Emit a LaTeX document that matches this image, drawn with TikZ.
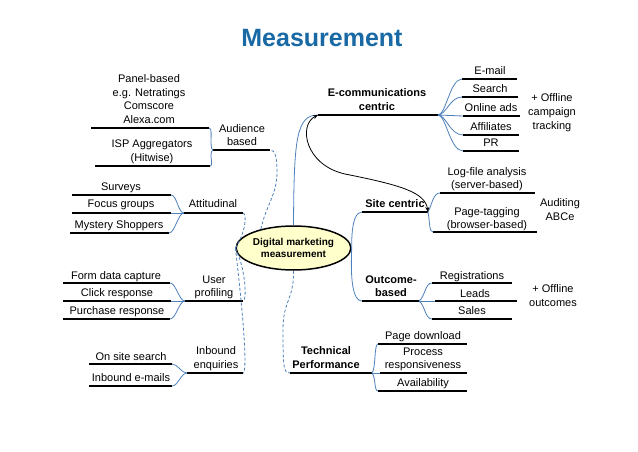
\documentclass[tikz,border=0pt]{standalone}
\usepackage{fontspec}
\setmainfont{Liberation Sans}
\usetikzlibrary{arrows.meta,shapes.geometric}
\definecolor{bluec}{RGB}{79,129,189}
\definecolor{titleblue}{RGB}{25,105,165}
\definecolor{ellfill}{RGB}{255,255,204}
\begin{document}
\begin{tikzpicture}[x=1pt,y=-1pt,
 txt/.style={anchor=base, inner sep=0pt, align=center, font=\fontsize{11}{13.7}\selectfont},
 btxt/.style={anchor=base, inner sep=0pt, align=center, font=\fontsize{11}{13.7}\selectfont\bfseries},
 uline/.style={line width=1.5pt, line cap=butt},
 conn/.style={draw=bluec, line width=0.8pt},
 dconn/.style={draw=bluec, line width=0.8pt, dash pattern=on 3pt off 2pt},
 dblarrow/.style={line width=0.8pt, {Stealth[length=5pt,width=4pt]}-{Stealth[length=5pt,width=4pt]}}
]
\useasboundingbox (0,0) rectangle (638,452);
\fill[white] (0,0) rectangle (638,452);

% title
\node[anchor=base, inner sep=0pt, font=\fontsize{25}{29}\selectfont\bfseries, text=titleblue] (title) at (322,47) {Measurement};

% centre
\node[draw, ellipse, fill=ellfill, line width=1.5pt, minimum width=93pt, minimum height=44pt, inner sep=0pt, align=center, font=\fontsize{10}{11.5}\selectfont\bfseries] (ctr) at (293.5,248) {Digital marketing\\measurement};

% ---------- coordinates ----------
% Audience based
\coordinate (a1L) at (91,128);  \coordinate (a1R) at (209,128);
\coordinate (a2L) at (95,166);  \coordinate (a2R) at (210,166);
\coordinate (audJ) at (213,150); \coordinate (audE) at (270,150);
% Attitudinal
\coordinate (t1L) at (72,195);  \coordinate (t1R) at (171,195);
\coordinate (t2L) at (72,213);  \coordinate (t2R) at (171,213);
\coordinate (t3L) at (70,233);  \coordinate (t3R) at (169,233);
\coordinate (attJ) at (184,213); \coordinate (attE) at (243,213);
% User profiling
\coordinate (u1L) at (63,283);  \coordinate (u1R) at (170,283);
\coordinate (u2L) at (63,301);  \coordinate (u2R) at (171,301);
\coordinate (u3L) at (63,319);  \coordinate (u3R) at (170,319);
\coordinate (upJ) at (185,301); \coordinate (upE) at (243,301);
% Inbound
\coordinate (i1L) at (89,364);  \coordinate (i1R) at (172,364);
\coordinate (i2L) at (89,386);  \coordinate (i2R) at (172,386);
\coordinate (inbJ) at (187,373); \coordinate (inbE) at (243,373);
% E-communications
\coordinate (ecS) at (318,115); \coordinate (ecJ) at (438,115);
\coordinate (e1L) at (462,79);  \coordinate (e1R) at (517,79);
\coordinate (e2L) at (462,97);  \coordinate (e2R) at (518,97);
\coordinate (e3L) at (463,116); \coordinate (e3R) at (520,116);
\coordinate (e4L) at (463,135); \coordinate (e4R) at (519,135);
\coordinate (e5L) at (463,151); \coordinate (e5R) at (519,151);
% Site centric
\coordinate (scS) at (362,212); \coordinate (scJ) at (428,212);
\coordinate (s1L) at (440,193); \coordinate (s1R) at (535,193);
\coordinate (s2L) at (433,232); \coordinate (s2R) at (537,232);
% Outcome based
\coordinate (obS) at (362,301); \coordinate (obJ) at (419,301);
\coordinate (o1L) at (432,283); \coordinate (o1R) at (512,283);
\coordinate (o2L) at (435,301); \coordinate (o2R) at (517,301);
\coordinate (o3L) at (432,319); \coordinate (o3R) at (512,319);
% Technical performance
\coordinate (tpS) at (290,373); \coordinate (tpJ) at (372,373);
\coordinate (p1L) at (378,344); \coordinate (p1R) at (467,344);
\coordinate (p2L) at (380,373); \coordinate (p2R) at (467,373);
\coordinate (p3L) at (378,391); \coordinate (p3R) at (467,391);

% ---------- underlines ----------
\foreach \a/\b in {a1L/a1R,a2L/a2R,audJ/audE,t1L/t1R,t2L/t2R,t3L/t3R,attJ/attE,
  u1L/u1R,u2L/u2R,u3L/u3R,upJ/upE,i1L/i1R,i2L/i2R,inbJ/inbE,
  ecS/ecJ,e1L/e1R,e2L/e2R,e3L/e3R,e4L/e4R,e5L/e5R,scS/scJ,s1L/s1R,s2L/s2R,
  obS/obJ,o1L/o1R,o2L/o2R,o3L/o3R,tpS/tpJ,p1L/p1R,p2L/p2R,p3L/p3R}
  \draw[uline] (\a) -- (\b);

% ---------- blue fans ----------
% audience brace
\draw[conn] (a1R) .. controls (212,128) and (211,135) .. (211,142) .. controls (211,147) and (212,150) .. (audJ);
\draw[conn] (a2R) .. controls (213,166) and (211,159) .. (211,156) .. controls (211,152) and (212,150) .. (audJ);
% attitudinal
\draw[conn] (t1R) .. controls (177,195) and (178,213) .. (attJ);
\draw[conn] (t2R) -- (attJ);
\draw[conn] (t3R) .. controls (175,233) and (178,213) .. (attJ);
% user profiling
\draw[conn] (u1R) .. controls (176,283) and (179,301) .. (upJ);
\draw[conn] (u2R) -- (upJ);
\draw[conn] (u3R) .. controls (176,319) and (179,301) .. (upJ);
% inbound
\draw[conn] (i1R) .. controls (178,364) and (181,373) .. (inbJ);
\draw[conn] (i2R) .. controls (178,386) and (181,373) .. (inbJ);
% e-comm
\draw[conn] (ecJ) .. controls (446,115) and (450,79) .. (e1L);
\draw[conn] (ecJ) .. controls (446,115) and (450,97) .. (e2L);
\draw[conn] (ecJ) -- (e3L);
\draw[conn] (ecJ) .. controls (446,115) and (450,135) .. (e4L);
\draw[conn] (ecJ) .. controls (446,115) and (450,151) .. (e5L);
% site centric
\draw[conn] (scJ) .. controls (432,205) and (433,193) .. (s1L);
\draw[conn] (scJ) .. controls (430,222) and (429,232) .. (s2L);
% outcome
\draw[conn] (obJ) .. controls (425,297) and (425,283) .. (o1L);
\draw[conn] (obJ) -- (o2L);
\draw[conn] (obJ) .. controls (425,305) and (425,319) .. (o3L);
% technical
\draw[conn] (tpJ) .. controls (376,368) and (374,344) .. (p1L);
\draw[conn] (tpJ) -- (p2L);
\draw[conn] (tpJ) .. controls (376,378) and (374,391) .. (p3L);

% ---------- centre connectors ----------
\draw[conn] (ctr.north) .. controls (294,140) and (296,115) .. (ecS);
\draw[conn] (ctr.east) .. controls (352,248) and (350,212) .. (scS);
\draw[conn] (ctr.east) .. controls (352,252) and (348,301) .. (obS);
\draw[dconn] (ctr.150) .. controls (266,205) and (277,195) .. (277,172) .. controls (277,156) and (275,150) .. (audE);
\draw[dconn] (ctr.west) .. controls (246,232) and (247,213) .. (attE);
\draw[dconn] (ctr.west) .. controls (246,270) and (247,301) .. (upE);
\draw[dconn] (ctr.west) .. controls (245,330) and (247,373) .. (inbE);
\draw[dconn] (ctr.south) .. controls (294,300) and (283,300) .. (283,330) .. controls (283,370) and (284,373) .. (tpS);
% black double arrow
\draw[dblarrow] (ecS) .. controls (298,125) and (305,165) .. (345,174) .. controls (400,185) and (425,192) .. (scJ);

% ---------- texts (multi-line: anchor base = last line) ----------
\node[txt] (panel) at (149,123.5) {Panel-based\\e.g. Netratings\\Comscore\\Alexa.com};
\node[txt, font=\fontsize{11}{14}\selectfont] (isp) at (152,161.5) {ISP Aggregators\\(Hitwise)};
\node[txt, font=\fontsize{11}{13}\selectfont] (audT) at (242,145.5) {Audience\\based};
\node[txt] (surv) at (121,190.5) {Surveys};
\node[txt] (focus) at (121,207.5) {Focus groups};
\node[txt] (myst) at (119,228.5) {Mystery Shoppers};
\node[txt] (attT) at (213,207.5) {Attitudinal};
\node[txt] (form) at (116,279.5) {Form data capture};
\node[txt] (click) at (117,296.5) {Click response};
\node[txt] (purch) at (117,314.5) {Purchase response};
\node[txt, font=\fontsize{11}{13}\selectfont] (upT) at (214,296.5) {User\\profiling};
\node[txt] (onsite) at (131,360.5) {On site search};
\node[txt] (inmail) at (131,381.5) {Inbound e-mails};
\node[txt, font=\fontsize{11}{14}\selectfont] (inbT) at (216,368.5) {Inbound\\enquiries};

\node[btxt] (ecT) at (377,110.5) {E-communications\\centric};
\node[txt] (email) at (490,74.5) {E-mail};
\node[txt] (search) at (490,92.5) {Search};
\node[txt] (online) at (491,111.5) {Online ads};
\node[txt] (affil) at (491,130.5) {Affiliates};
\node[txt] (pr) at (491,146.5) {PR};
\node[txt, font=\fontsize{11}{14}\selectfont] (offc) at (552,129.5) {+ Offline\\campaign\\tracking};
\node[btxt] (scT) at (395,207.5) {Site centric};
\node[txt, font=\fontsize{11}{13}\selectfont] (logf) at (487,188.5) {Log-file analysis\\(server-based)};
\node[txt, font=\fontsize{11}{12.5}\selectfont] (paget) at (487,228) {Page-tagging\\(browser-based)};
\node[txt, font=\fontsize{11}{14}\selectfont] (audit) at (560,220.5) {Auditing\\ABCe};
\node[btxt, font=\fontsize{11}{13}\selectfont\bfseries] (obT) at (391,296.5) {Outcome-\\based};
\node[txt] (reg) at (472,279.5) {Registrations};
\node[txt] (leads) at (475,297.5) {Leads};
\node[txt] (sales) at (472,314.5) {Sales};
\node[txt, font=\fontsize{11}{14}\selectfont] (offo) at (553,306.5) {+ Offline\\outcomes};
\node[btxt, font=\fontsize{11}{14}\selectfont\bfseries] (tpT) at (326,368.5) {Technical\\Performance};
\node[txt] (pdl) at (423,339.5) {Page download};
\node[txt, font=\fontsize{11}{13}\selectfont] (proc) at (423,368.5) {Process\\responsiveness};
\node[txt] (avail) at (423,386.5) {Availability};
\end{tikzpicture}
\end{document}
